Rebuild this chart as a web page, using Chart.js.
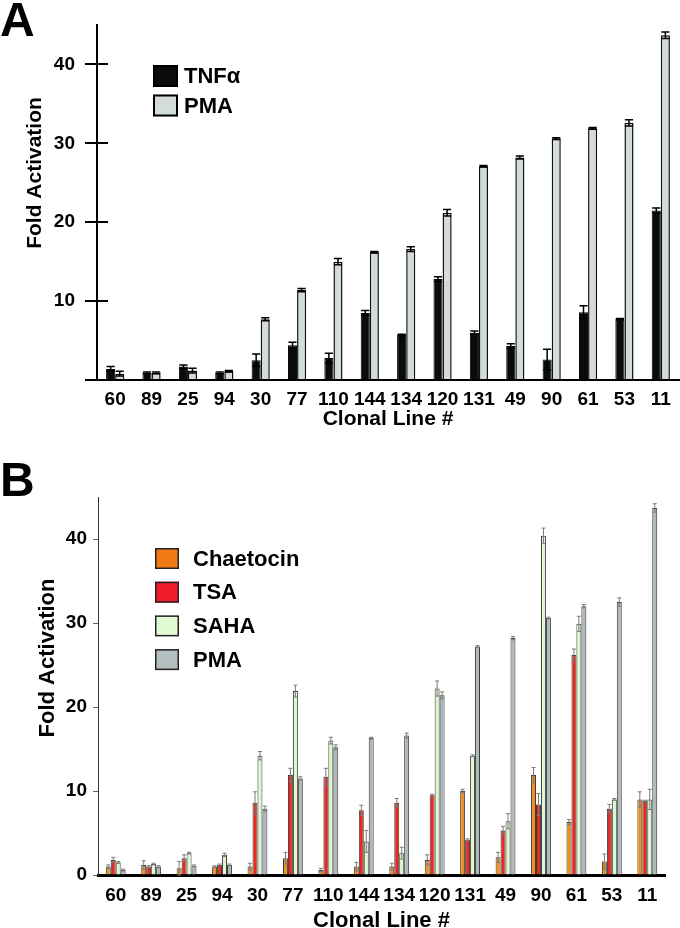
<!DOCTYPE html>
<html><head><meta charset="utf-8">
<script src="https://cdn.jsdelivr.net/npm/chart.js@4.4.1/dist/chart.umd.min.js"></script>
<style>
html,body{margin:0;padding:0;background:#fff;}
body{width:680px;height:928px;position:relative;overflow:hidden;font-family:"Liberation Sans",Arial,sans-serif;}
#cA{position:absolute;left:0;top:0;}
#cB{position:absolute;left:0;top:432px;}
.lab{position:absolute;font-weight:bold;font-size:48px;line-height:1;color:#000;}
</style></head><body>
<canvas id="cA" width="680" height="432"></canvas>
<canvas id="cB" width="680" height="496"></canvas>
<div class="lab" style="left:0;top:-4px">A</div>
<div class="lab" style="left:0;top:456px">B</div>
<script>
// ---------- DATA ----------
const categories = ['60','89','25','94','30','77','110','144','134','120','131','49','90','61','53','11'];
const yTicks = [0, 10, 20, 30, 40];

// Panel A
const tnfA     = [1.4, 0.9, 1.7, 0.9, 2.5, 4.4, 2.8, 8.5, 5.7, 12.8, 6.0, 4.3, 2.6, 8.6, 7.7, 21.5];
const tnfAErr  = [0.3, 0.1, 0.2, 0.1, 0.8, 0.4, 0.6, 0.3, 0.1, 0.3, 0.2, 0.3, 1.3, 0.8, 0.1, 0.3];
const pmaA     = [0.8, 0.9, 1.2, 1.1, 7.7, 11.4, 15.0, 16.2, 16.6, 21.2, 27.1, 28.2, 30.6, 31.9, 32.6, 43.7];
const pmaAErr  = [0.3, 0.1, 0.3, 0.1, 0.2, 0.2, 0.4, 0.1, 0.3, 0.4, 0.1, 0.2, 0.1, 0.1, 0.4, 0.4];

// Panel B
const chaetocin    = [1.0, 1.2, 0.8, 1.0, 1.0, 2.0, 0.6, 1.0, 1.0, 1.8, 10.0, 2.1, 11.9, 6.3, 1.6, 9.0];
const chaetocinErr = [0.2, 0.5, 0.8, 0.1, 0.4, 0.7, 0.2, 0.5, 0.4, 0.6, 0.2, 0.6, 0.9, 0.3, 0.9, 0.9];
const tsa          = [1.8, 1.0, 2.0, 1.2, 8.6, 11.9, 11.7, 7.7, 8.6, 9.5, 4.2, 5.3, 8.4, 26.2, 7.9, 8.8];
const tsaErr       = [0.3, 0.1, 0.4, 0.1, 1.3, 0.8, 1.0, 0.6, 0.5, 0.1, 0.1, 0.5, 1.3, 0.7, 0.5, 0.1];
const saha         = [1.5, 1.3, 2.6, 2.4, 14.2, 21.9, 16.0, 4.0, 2.6, 22.2, 14.2, 6.4, 40.4, 29.9, 9.0, 9.0];
const sahaErr      = [0.1, 0.1, 0.1, 0.2, 0.5, 0.7, 0.4, 1.3, 0.7, 0.9, 0.1, 0.9, 0.9, 0.9, 0.1, 1.2];
const pmaB         = [0.6, 1.0, 1.1, 1.2, 7.9, 11.5, 15.2, 16.3, 16.6, 21.4, 27.2, 28.2, 30.6, 32.0, 32.5, 43.7];
const pmaBErr      = [0.1, 0.1, 0.1, 0.1, 0.3, 0.2, 0.3, 0.1, 0.3, 0.4, 0.1, 0.2, 0.1, 0.2, 0.5, 0.5];

// ---------- PLUGINS ----------
const errorBars = {
  id: 'errorBars',
  afterDatasetsDraw(chart, args, o) {
    const ctx = chart.ctx, ys = chart.scales.y;
    chart.data.datasets.forEach((ds, i) => {
      if (!ds.errors) return;
      const meta = chart.getDatasetMeta(i);
      meta.data.forEach((bar, j) => {
        const v = ds.data[j], e = ds.errors[j];
        if (!e) return;
        const top = ys.getPixelForValue(v + e);
        const bot = ys.getPixelForValue(Math.max(0, v - e));
        const half = bar.width * o.capRatio / 2;
        ctx.save();
        ctx.strokeStyle = o.color; ctx.lineWidth = o.width;
        ctx.beginPath();
        ctx.moveTo(bar.x, top); ctx.lineTo(bar.x, bot);
        ctx.moveTo(bar.x - half, top); ctx.lineTo(bar.x + half, top);
        ctx.moveTo(bar.x - half, bot); ctx.lineTo(bar.x + half, bot);
        ctx.stroke();
        ctx.restore();
      });
    });
  }
};

const boxLegend = {
  id: 'boxLegend',
  afterDraw(chart, args, o) {
    const ctx = chart.ctx;
    ctx.save();
    chart.data.datasets.forEach((ds, i) => {
      const y = o.y + i * o.step;
      ctx.fillStyle = o.fills ? o.fills[i] : ds.backgroundColor;
      ctx.fillRect(o.x, y, o.boxW, o.boxH);
      ctx.strokeStyle = o.boxBorder; ctx.lineWidth = o.boxLine;
      ctx.strokeRect(o.x + o.boxLine/2, y + o.boxLine/2, o.boxW - o.boxLine, o.boxH - o.boxLine);
      ctx.fillStyle = '#000'; ctx.font = o.font;
      ctx.textAlign = 'left'; ctx.textBaseline = 'middle';
      ctx.fillText(ds.label, o.x + o.boxW + o.gap, y + o.boxH / 2 + 1);
    });
    ctx.restore();
  }
};

const axisExtras = {
  id: 'axisExtras',
  afterDraw(chart, args, o) {
    const ctx = chart.ctx, ys = chart.scales.y;
    ctx.save();
    if (o.innerTick) {
      ctx.strokeStyle = '#000'; ctx.lineWidth = 2;
      ys.ticks.forEach(t => {
        if (t.value === 0) return;
        const p = Math.round(ys.getPixelForValue(t.value));
        ctx.beginPath(); ctx.moveTo(ys.right, p); ctx.lineTo(ys.right + o.innerTick, p); ctx.stroke();
      });
    }
    ctx.translate(o.titleX, o.titleY);
    ctx.rotate(-Math.PI / 2);
    ctx.textAlign = 'center'; ctx.textBaseline = 'middle';
    ctx.fillStyle = '#000'; ctx.font = o.titleFont;
    ctx.fillText(o.title, 0, 0);
    ctx.restore();
  }
};

const FONT = '"Liberation Sans", Arial, Helvetica, sans-serif';

// ---------- CHART A ----------
new Chart(document.getElementById('cA'), {
  type: 'bar',
  data: {
    labels: categories,
    datasets: [
      { label: 'TNFα', data: tnfA, errors: tnfAErr, backgroundColor: '#0b0b0b', borderColor: '#000', borderWidth: 1 },
      { label: 'PMA', data: pmaA, errors: pmaAErr, backgroundColor: '#d3dbdb', borderColor: '#111', borderWidth: 1.5 }
    ]
  },
  options: {
    responsive: false, animation: false, devicePixelRatio: 1,
    layout: { padding: { top: 25, right: 1, left: 0, bottom: 0 } },
    datasets: { bar: { categoryPercentage: 0.5, barPercentage: 1.0 } },
    plugins: {
      legend: { display: false }, tooltip: { enabled: false },
      errorBars: { color: '#000', width: 1.5, capRatio: 0.9 },
      boxLegend: { x: 153, y: 65, step: 29.5, boxW: 25, boxH: 22, boxLine: 2, boxBorder: '#000', gap: 6,
                   font: 'bold 22px ' + FONT },
      axisExtras: { innerTick: 11, title: 'Fold Activation', titleX: 35, titleY: 173, titleFont: 'bold 21px ' + FONT }
    },
    scales: {
      x: {
        afterFit: s => { s.height = 52; },
        grid: { display: false, drawTicks: false },
        border: { display: true, color: '#000', width: 2 },
        ticks: { color: '#000', font: { family: FONT, size: 19, weight: 'bold' }, padding: 8, maxRotation: 0, autoSkip: false },
        title: { display: true, text: 'Clonal Line #', color: '#000', font: { family: FONT, size: 21, weight: 'bold' }, padding: { top: 0, bottom: 0 } }
      },
      y: {
        min: 0, max: 45,
        afterFit: s => { s.width = 97; },
        afterBuildTicks: s => { s.ticks = yTicks.map(v => ({ value: v })); },
        grid: { display: true, drawOnChartArea: false, drawTicks: true, tickLength: 12, color: '#000', lineWidth: 2 },
        border: { display: true, color: '#000', width: 2 },
        ticks: { color: '#000', font: { family: FONT, size: 19, weight: 'bold' }, padding: 10,
                 callback: v => v === 0 ? '' : v }
      }
    }
  },
  plugins: [errorBars, boxLegend, axisExtras]
});

// ---------- CHART B ----------
new Chart(document.getElementById('cB'), {
  type: 'bar',
  data: {
    labels: categories,
    datasets: [
      { label: 'Chaetocin', data: chaetocin, errors: chaetocinErr, backgroundColor: '#f0901e', borderColor: '#3a3a3a', borderWidth: 1 },
      { label: 'TSA', data: tsa, errors: tsaErr, backgroundColor: '#e82a22', borderColor: '#3a3a3a', borderWidth: 1 },
      { label: 'SAHA', data: saha, errors: sahaErr, backgroundColor: '#dff8cf', borderColor: '#3a3a3a', borderWidth: 1 },
      { label: 'PMA', data: pmaB, errors: pmaBErr, backgroundColor: '#aeb9ba', borderColor: '#3a3a3a', borderWidth: 1 }
    ]
  },
  options: {
    responsive: false, animation: false, devicePixelRatio: 1,
    layout: { padding: { top: 65, right: 15, left: 0, bottom: 0 } },
    datasets: { bar: { categoryPercentage: 0.56, barPercentage: 1.0 } },
    plugins: {
      legend: { display: false }, tooltip: { enabled: false },
      errorBars: { color: '#7a7a7a', width: 1, capRatio: 0.8 },
      boxLegend: { x: 155, y: 116, step: 33.7, boxW: 24, boxH: 21, boxLine: 1.5, boxBorder: '#222', gap: 14,
                   font: 'bold 22px ' + FONT, fills: ['#f07a14', '#f01e2c', '#e0fbd4', '#b4bfc0'] },
      axisExtras: { innerTick: 0, title: 'Fold Activation', titleX: 48, titleY: 226, titleFont: 'bold 22px ' + FONT }
    },
    scales: {
      x: {
        afterFit: s => { s.height = 53; },
        grid: { display: false, drawTicks: false },
        border: { display: true, color: '#000', width: 3 },
        ticks: { color: '#000', font: { family: FONT, size: 19, weight: 'bold' }, padding: 9, maxRotation: 0, autoSkip: false },
        title: { display: true, text: 'Clonal Line #', color: '#000', font: { family: FONT, size: 22, weight: 'bold', lineHeight: 1 }, padding: { top: 0, bottom: -4 } }
      },
      y: {
        min: 0, max: 45,
        afterFit: s => { s.width = 98; },
        afterBuildTicks: s => { s.ticks = yTicks.map(v => ({ value: v })); },
        grid: { display: true, drawOnChartArea: false, drawTicks: true, tickLength: 5, color: '#666', lineWidth: 1 },
        border: { display: true, color: '#333', width: 1 },
        ticks: { color: '#000', font: { family: FONT, size: 19, weight: 'bold' }, padding: 6 }
      }
    }
  },
  plugins: [errorBars, boxLegend, axisExtras]
});
</script>
</body></html>
